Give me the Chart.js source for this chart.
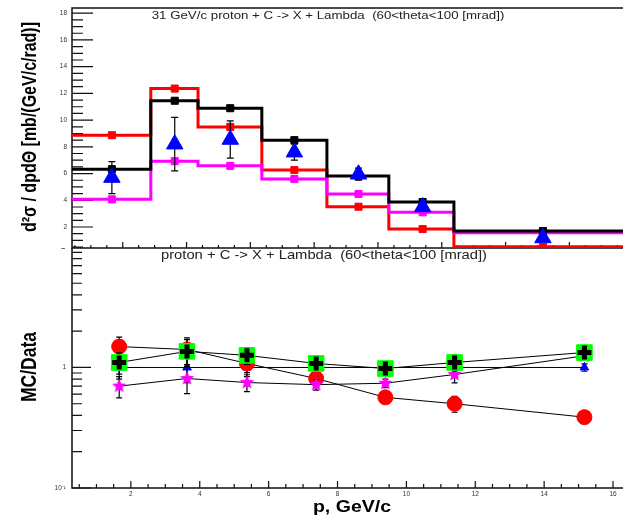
<!DOCTYPE html>
<html>
<head>
<meta charset="utf-8">
<title>31 GeV/c p + C -> Lambda, 60-100 mrad</title>
<script src="https://cdn.jsdelivr.net/npm/chart.js@4.4.1/dist/chart.umd.min.js"></script>
<style>
  html, body { margin: 0; padding: 0; background: #fff; }
  #wrap { position: relative; width: 623px; height: 515px; overflow: hidden; }
  canvas { position: absolute; left: 0; }
  #topPad { top: 0; }
  #bottomPad { top: 244px; }
</style>
</head>
<body>
<div id="wrap">
  <canvas id="topPad" width="623" height="252"></canvas>
  <canvas id="bottomPad" width="623" height="271"></canvas>
</div>
<script>
// mean momentum of each point, GeV/c (same in both pads)
const pMean = [1.66, 3.63, 5.37, 7.38, 9.39, 11.4, 15.17];
// histogram bin edges of the upper pad
const binEdges = [0.41, 2.88, 4.36, 6.36, 8.40, 10.34, 12.38, 17.96];

// upper pad: d2sigma/dp dtheta  [mb/(GeV/c/rad)]
const dataXsec    = [5.7, 8.2, 8.55, 7.6, 5.95, 3.5, 1.18];
const dataXsecErr = [1.2, 2.0, 1.4, 0.6, 0.45, 0.25, 0.2];
const mcBlack     = [6.33, 11.45, 10.89, 8.5, 5.81, 3.87, 1.7];
const mcRed       = [8.87, 12.36, 9.49, 6.26, 3.52, 1.85, 0.53];
const mcMagenta   = [4.07, 6.93, 6.58, 5.59, 4.47, 3.1, 1.58];

// lower pad: MC/Data
const ratioBlack   = [1.10, 1.36, 1.26, 1.08, 0.98, 1.10, 1.33];
const ratioRed     = [1.49, 1.41, 1.08, 0.81, 0.565, 0.50, 0.387];
const ratioMagenta = [0.70, 0.81, 0.75, 0.72, 0.74, 0.875, 1.25];
const ratioBlue    = [1, 1, 1, 1, 1, 1, 1];
const ratioRelErr  = [0.2, 0.25, 0.16, 0.1, 0.08, 0.15, 0.07];

// axis ranges and labels
const xRangeTop = [0.41, 17.68];
const xRangeBottom = [0.29, 16.29];
const xsecRange = [0.43, 18.39];
const ratioRange = [0.1, 9.8];
const logLabels = { 0.1: '10⁻¹', 1: '1' };

const FONT = '"Liberation Sans", Arial, Helvetica, sans-serif';
const STRETCH = 1.22;   // the reference is squeezed a bit, text looks wide

Chart.defaults.font.family = FONT;

const xy = (vals) => vals.map((y, i) => ({ x: pMean[i], y }));
const steps = (vals) => {
    const pts = [];
    vals.forEach((v, i) => {
        pts.push({ x: binEdges[i], y: v }, { x: binEdges[i + 1], y: v });
    });
    return pts;
};
const withErr = (vals) => vals.map((v, i) => v * ratioRelErr[i]);

// filled 5-point star, like ROOT marker 29
function starMarker(color, r) {
    const c = document.createElement('canvas');
    c.width = c.height = 2 * r + 2;
    const g = c.getContext('2d');
    g.translate(r + 1, r + 1);
    g.beginPath();
    for (let k = 0; k < 10; k++) {
        const rr = k % 2 ? r * 0.45 : r;
        const a = -Math.PI / 2 + k * Math.PI / 5;
        g.lineTo(rr * Math.cos(a), rr * Math.sin(a));
    }
    g.closePath();
    g.fillStyle = color;
    g.fill();
    return c;
}

function drawText(ctx, text, x, y, font, opt = {}) {
    ctx.save();
    ctx.translate(x, y);
    ctx.scale(opt.sx || 1, 1);
    if (opt.rotate) ctx.rotate(-Math.PI / 2);
    ctx.font = font;
    ctx.fillStyle = opt.color || '#000';
    ctx.textAlign = opt.align || 'center';
    ctx.textBaseline = opt.baseline || 'middle';
    ctx.fillText(text, 0, 0);
    ctx.restore();
}

// ticks every 0.5 inside the axis range (majors get a label every 2)
const halfStepTicks = s => {
    const ticks = [];
    for (let k = Math.ceil(s.min / 0.5); k * 0.5 <= s.max; k++) {
        ticks.push({ value: k * 0.5 });
    }
    s.ticks = ticks;
};

// axes in ROOT style: lines on the frame, ticks pointing inwards
const rootFrame = {
    id: 'rootFrame',
    beforeDatasetsDraw(chart, args, o) {
        const { ctx, chartArea: a } = chart;
        const xs = chart.scales.x, ys = chart.scales.y;
        ctx.save();
        ctx.strokeStyle = '#111';
        ctx.lineWidth = 1.5;
        ctx.beginPath();
        if (o.topLine) {
            ctx.moveTo(a.right, a.top);
            ctx.lineTo(a.left, a.top);
        } else {
            ctx.moveTo(a.left, a.top);
        }
        ctx.lineTo(a.left, a.bottom);
        ctx.lineTo(a.right, a.bottom);
        ctx.stroke();

        ctx.lineWidth = 1.2;
        ctx.beginPath();
        xs.ticks.forEach(t => {
            const px = xs.getPixelForValue(t.value);
            ctx.moveTo(px, a.bottom);
            ctx.lineTo(px, a.bottom - (t.label ? o.xMajor : o.xMinor));
        });
        ys.ticks.forEach(t => {
            const py = ys.getPixelForValue(t.value);
            ctx.moveTo(a.left, py);
            ctx.lineTo(a.left + (t.label ? o.yMajor : o.yMinor), py);
        });
        ctx.stroke();
        ctx.restore();
    }
};

const errorBars = {
    id: 'errorBars',
    beforeDatasetDraw(chart, args) {
        const ds = chart.data.datasets[args.index];
        if (!ds.errors) return;
        const { ctx } = chart;
        const ys = chart.scales[args.meta.yAxisID];
        const cap = ds.errCap || 3;
        ctx.save();
        ctx.strokeStyle = '#000';
        ctx.lineWidth = 1.2;
        ctx.beginPath();
        args.meta.data.forEach((pt, i) => {
            const v = ds.data[i].y, e = ds.errors[i];
            const hi = ys.getPixelForValue(v + e);
            const lo = ys.getPixelForValue(Math.max(v - e, ys.min));
            ctx.moveTo(pt.x, hi); ctx.lineTo(pt.x, lo);
            ctx.moveTo(pt.x - cap, hi); ctx.lineTo(pt.x + cap, hi);
            ctx.moveTo(pt.x - cap, lo); ctx.lineTo(pt.x + cap, lo);
        });
        ctx.stroke();
        ctx.restore();
    }
};

const tickFont = { size: 6.5 };
const everyTwo = v => (v % 2 === 0 ? String(v) : '');

function xAxis(range, showLabels, height) {
    return {
        type: 'linear',
        min: range[0],
        max: range[1],
        grid: { display: false, drawTicks: false },
        border: { display: false },
        ticks: {
            display: showLabels,
            autoSkip: false,
            maxRotation: 0,
            minRotation: 0,
            padding: 2,
            color: '#333',
            font: tickFont,
            callback: everyTwo
        },
        afterBuildTicks: halfStepTicks,
        afterFit: s => { s.height = height; s.paddingLeft = 0; s.paddingRight = 0; }
    };
}

const yFit = s => { s.width = 72; s.paddingTop = 0; s.paddingBottom = 0; };

const common = {
    responsive: false,
    animation: false,
    devicePixelRatio: 1,
    events: []
};

// ---------------- upper pad ----------------
new Chart(document.getElementById('topPad'), {
    type: 'line',
    data: {
        datasets: [
            {
                label: 'Data',
                data: xy(dataXsec),
                errors: dataXsecErr,
                errCap: 3.5,
                showLine: false,
                pointStyle: 'triangle',
                pointRadius: 9.5,
                pointBackgroundColor: '#0000ff',
                pointBorderColor: '#0000ff',
                pointBorderWidth: 1,
                order: 0
            },
            {
                label: 'MC black',
                data: steps(mcBlack),
                borderColor: '#000',
                borderWidth: 3,
                pointRadius: 0,
                order: 2
            },
            {
                label: 'MC black points',
                data: xy(mcBlack),
                showLine: false,
                pointStyle: 'rect',
                pointRadius: 5,
                pointBackgroundColor: '#000',
                pointBorderColor: '#000',
                order: 1
            },
            {
                label: 'MC magenta',
                data: steps(mcMagenta),
                borderColor: '#ff00ff',
                borderWidth: 3,
                pointRadius: 0,
                order: 4
            },
            {
                label: 'MC magenta points',
                data: xy(mcMagenta),
                showLine: false,
                pointStyle: 'rect',
                pointRadius: 5,
                pointBackgroundColor: '#ff00ff',
                pointBorderColor: '#ff00ff',
                order: 3
            },
            {
                label: 'MC red',
                data: steps(mcRed),
                borderColor: '#ff0000',
                borderWidth: 3,
                pointRadius: 0,
                order: 6
            },
            {
                label: 'MC red points',
                data: xy(mcRed),
                showLine: false,
                pointStyle: 'rect',
                pointRadius: 5,
                pointBackgroundColor: '#ff0000',
                pointBorderColor: '#ff0000',
                order: 5
            }
        ]
    },
    options: {
        ...common,
        layout: { autoPadding: false, padding: { top: 8, right: 0, bottom: 4, left: 0 } },
        plugins: {
            legend: { display: false },
            tooltip: { enabled: false },
            rootFrame: { xMajor: 6, xMinor: 3, yMajor: 21, yMinor: 11, topLine: true }
        },
        scales: {
            x: xAxis(xRangeTop, false, 0),
            y: {
                type: 'linear',
                min: xsecRange[0],
                max: xsecRange[1],
                grid: { display: false, drawTicks: false },
                border: { display: false },
                ticks: {
                    autoSkip: false,
                    padding: 5,
                    color: '#333',
                    font: tickFont,
                    callback: everyTwo
                },
                afterBuildTicks: halfStepTicks,
                afterFit: yFit
            }
        }
    },
    plugins: [rootFrame, errorBars, {
        id: 'topText',
        afterDraw(chart) {
            const { ctx, chartArea: a } = chart;
            drawText(ctx, '31 GeV/c proton + C -> X + Lambda  (60<theta<100 [mrad])',
                a.left + 256, a.top + 8, '10.9px ' + FONT, { sx: STRETCH, color: '#222' });
            drawText(ctx, 'd²σ / dpdΘ [mb/(GeV/c/rad)]',
                a.left - 41, (a.top + a.bottom) / 2 - 1, 'bold 16px ' + FONT, { sx: STRETCH, rotate: true });
            drawText(ctx, '−', a.left - 7, a.bottom + 1, 'bold 7px ' + FONT, { align: 'right', color: '#333' });
        }
    }]
});

// ---------------- lower pad ----------------
new Chart(document.getElementById('bottomPad'), {
    type: 'line',
    data: {
        datasets: [
            {
                label: 'cross',
                data: xy(ratioBlack),
                showLine: false,
                pointStyle: 'cross',
                pointRadius: 7,
                pointBorderWidth: 5,
                pointBorderColor: '#000',
                order: 0
            },
            {
                label: 'black/green',
                data: xy(ratioBlack),
                errors: withErr(ratioBlack),
                borderColor: '#000',
                borderWidth: 1,
                pointStyle: 'rect',
                pointRadius: 11,
                pointBackgroundColor: '#00ff00',
                pointBorderColor: '#00ff00',
                order: 1
            },
            {
                label: 'magenta',
                data: xy(ratioMagenta),
                errors: withErr(ratioMagenta),
                borderColor: '#000',
                borderWidth: 1,
                pointStyle: starMarker('#ff00ff', 7.5),
                pointRadius: 7,
                order: 2
            },
            {
                label: 'red',
                data: xy(ratioRed),
                errors: withErr(ratioRed),
                borderColor: '#000',
                borderWidth: 1,
                pointStyle: 'circle',
                pointRadius: 7.5,
                pointBackgroundColor: '#ff0000',
                pointBorderColor: '#ff0000',
                order: 3
            },
            {
                label: 'blue',
                data: xy(ratioBlue),
                errors: withErr(ratioBlue),
                borderColor: '#000',
                borderWidth: 1,
                pointStyle: 'triangle',
                pointRadius: 5,
                pointBackgroundColor: '#0000ff',
                pointBorderColor: '#0000ff',
                order: 4
            }
        ]
    },
    options: {
        ...common,
        layout: { autoPadding: false, padding: { top: 4, right: 0, bottom: 0, left: 0 } },
        plugins: {
            legend: { display: false },
            tooltip: { enabled: false },
            rootFrame: { xMajor: 7, xMinor: 4, yMajor: 19, yMinor: 10, topLine: false }
        },
        scales: {
            x: xAxis(xRangeBottom, true, 27),
            y: {
                type: 'logarithmic',
                min: ratioRange[0],
                max: ratioRange[1],
                grid: { display: false, drawTicks: false },
                border: { display: false },
                ticks: {
                    autoSkip: false,
                    padding: 6,
                    color: '#333',
                    font: tickFont,
                    callback: v => logLabels[v] || ''
                },
                // keep only the 1..9 x 10^n ticks
                afterBuildTicks: s => {
                    s.ticks = s.ticks.filter(t => {
                        const m = t.value / Math.pow(10, Math.floor(Math.log10(t.value) + 1e-9));
                        return Math.abs(m - Math.round(m)) < 1e-6 && t.value <= s.max;
                    });
                },
                afterFit: yFit
            }
        }
    },
    plugins: [rootFrame, errorBars, {
        id: 'bottomText',
        afterDraw(chart) {
            const { ctx, chartArea: a } = chart;
            drawText(ctx, 'proton + C -> X + Lambda  (60<theta<100 [mrad])',
                a.left + 252, a.top + 8, '12.1px ' + FONT, { sx: STRETCH, color: '#222' });
            drawText(ctx, 'MC/Data',
                a.left - 42, (a.top + a.bottom) / 2 - 1, 'bold 17.5px ' + FONT, { sx: STRETCH, rotate: true });
            drawText(ctx, 'p, GeV/c',
                a.left + 280, a.bottom + 23.5, 'bold 16px ' + FONT, { sx: STRETCH, baseline: 'alphabetic' });
        }
    }]
});
</script>
</body>
</html>
